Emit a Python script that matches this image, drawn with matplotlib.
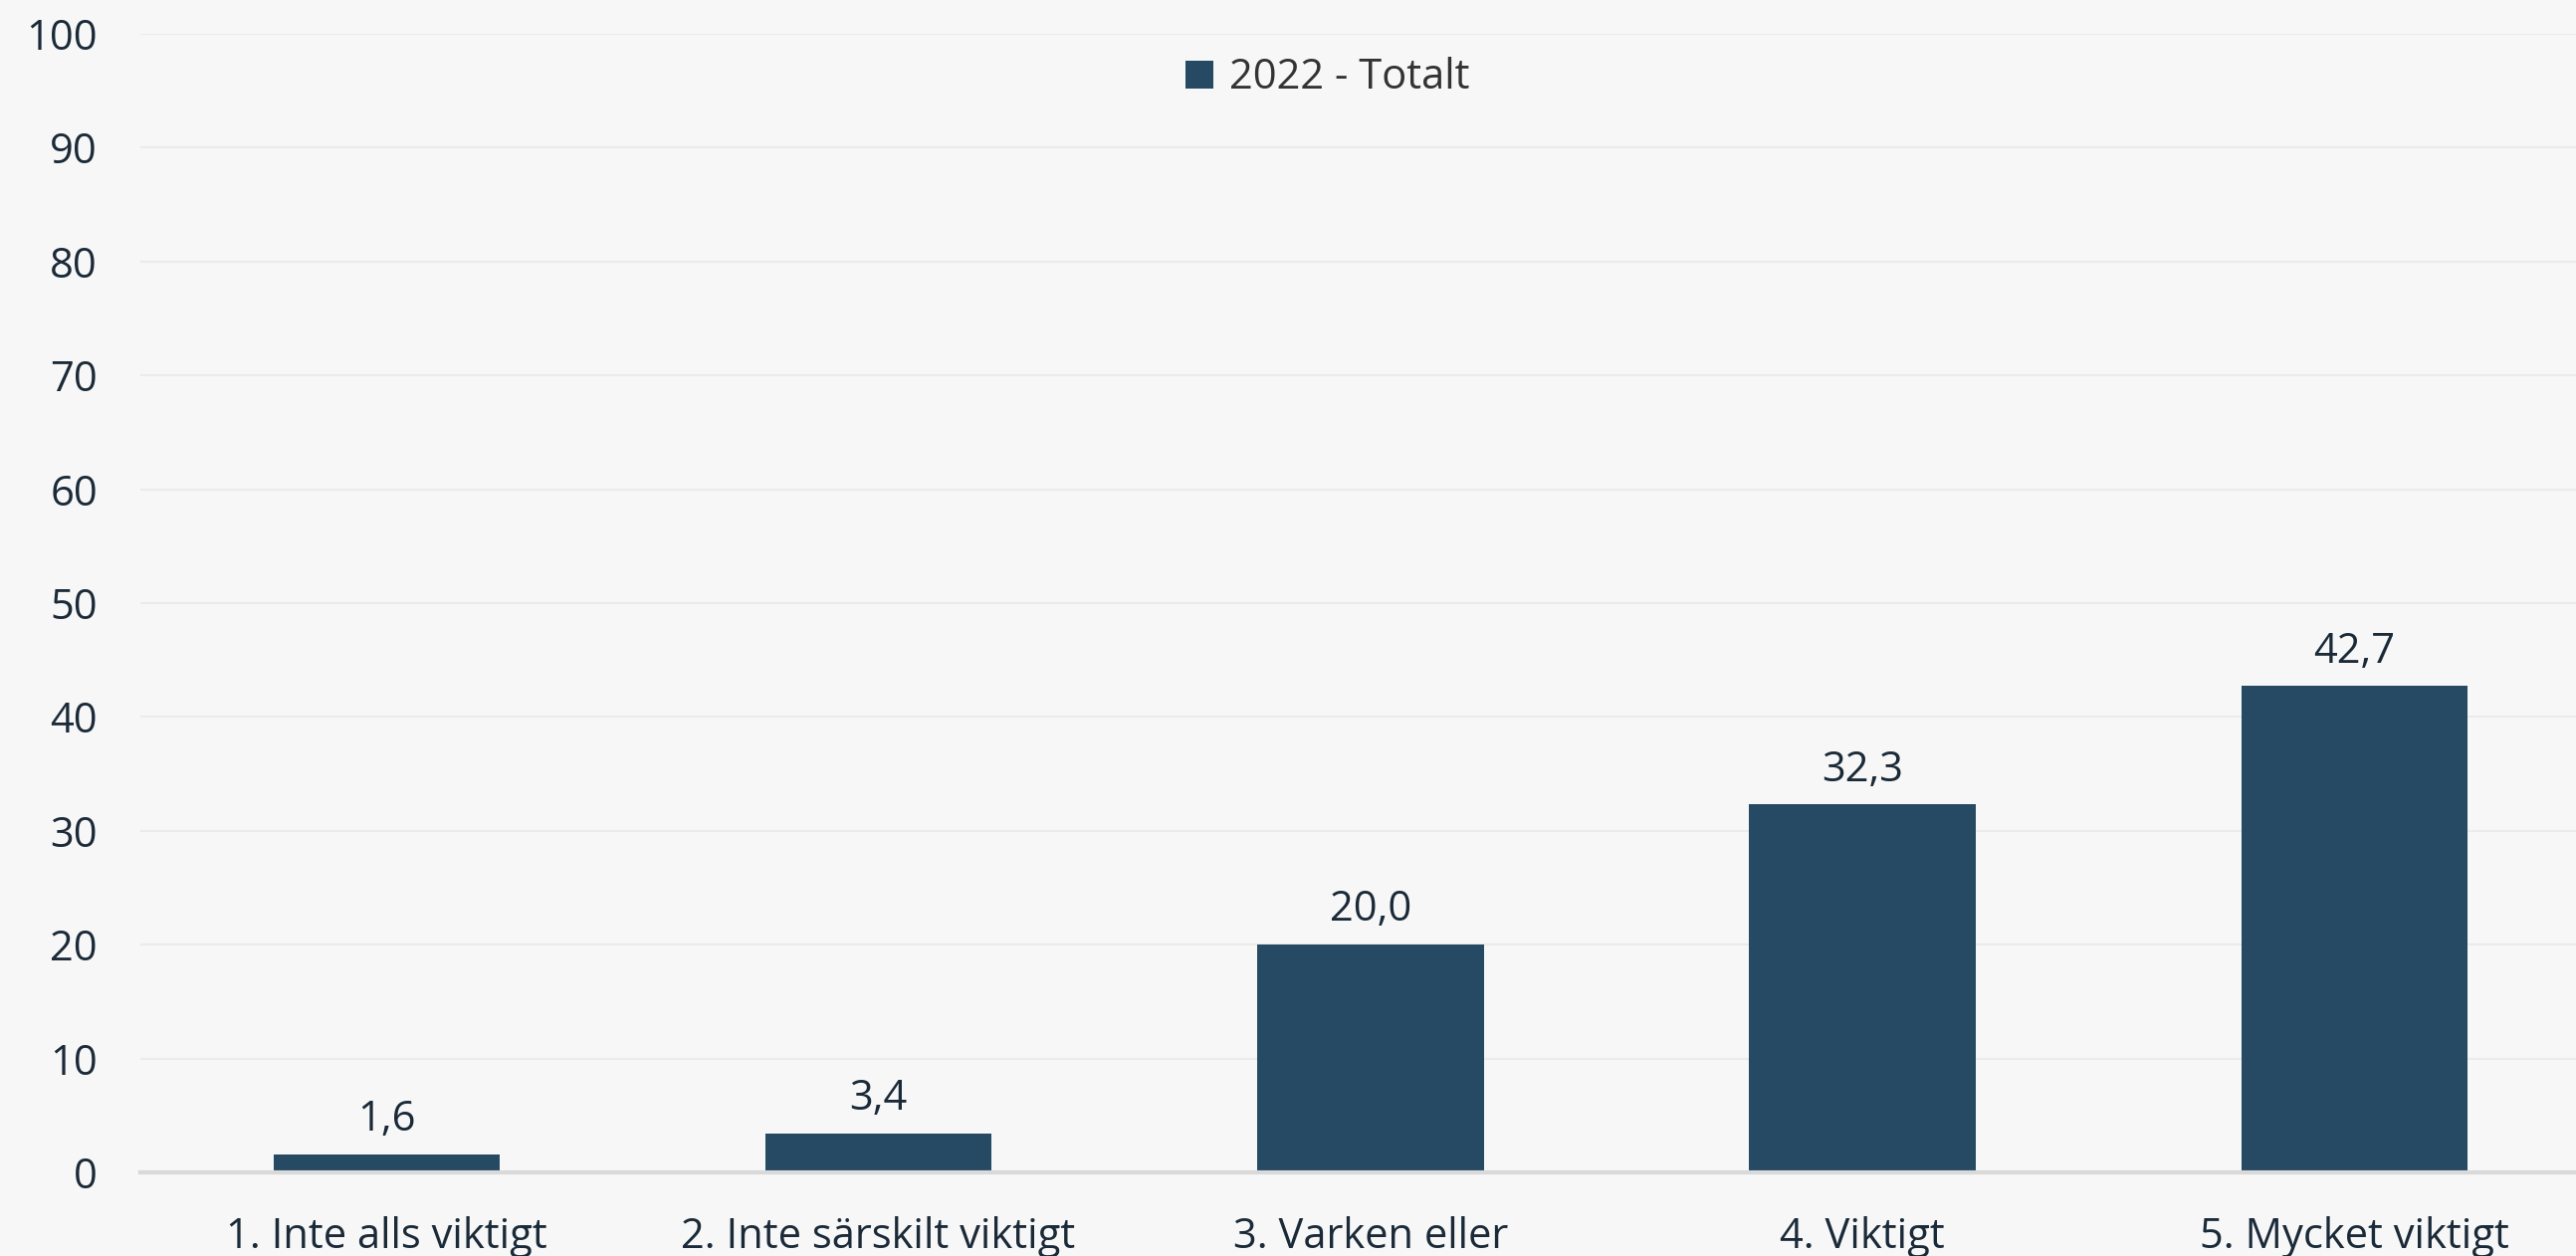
import matplotlib.pyplot as plt
import numpy as np

plt.rcParams['font.family'] = ['Open Sans', 'DejaVu Sans']

categories = ["1. Inte alls viktigt", "2. Inte särskilt viktigt", "3. Varken eller",
              "4. Viktigt", "5. Mycket viktigt"]
values = [1.6, 3.4, 20.0, 32.3, 42.7]
series_name = "2022 - Totalt"
yticks = [0, 10, 20, 30, 40, 50, 60, 70, 80, 90, 100]

bg = "#f7f7f7"
bar_color = "#264a63"
text_color = "#1b2a38"

fig = plt.figure(figsize=(25.88, 12.62), dpi=100, facecolor=bg)
ax = fig.add_axes([0.0545, 0.0666, 0.955, 0.9065], facecolor=bg)

x = np.arange(len(categories))
bars = ax.bar(x, values, width=0.46, color=bar_color, label=series_name, zorder=3)

for b, v in zip(bars, values):
    ax.text(b.get_x() + b.get_width() / 2, v + 1.2, f"{v:.1f}".replace(".", ","),
            ha="center", va="bottom", fontsize=30, color=text_color, zorder=4)

ax.set_xlim(-0.5, len(categories) - 0.5)
ax.set_ylim(0, 100)
ax.set_yticks(yticks)
ax.set_xticks(x)
ax.set_xticklabels(categories)
ax.tick_params(axis="both", length=0, labelsize=30, colors=text_color)
ax.tick_params(axis="y", pad=31)
ax.tick_params(axis="x", pad=32)

ax.yaxis.grid(True, color="#ebebeb", linewidth=1.5, zorder=0)
for side in ["top", "right", "left"]:
    ax.spines[side].set_visible(False)
ax.spines["bottom"].set_color("#d9d9d9")
ax.spines["bottom"].set_linewidth(3)
ax.spines["bottom"].set_zorder(5)

leg = ax.legend(loc="center", bbox_to_anchor=(0.5155, 0.938), bbox_transform=fig.transFigure,
                frameon=False, fontsize=30, handlelength=0.65, handleheight=0.65,
                handletextpad=0.4, labelcolor="#333333")

fig.savefig("out.png", dpi=100, facecolor=bg)
